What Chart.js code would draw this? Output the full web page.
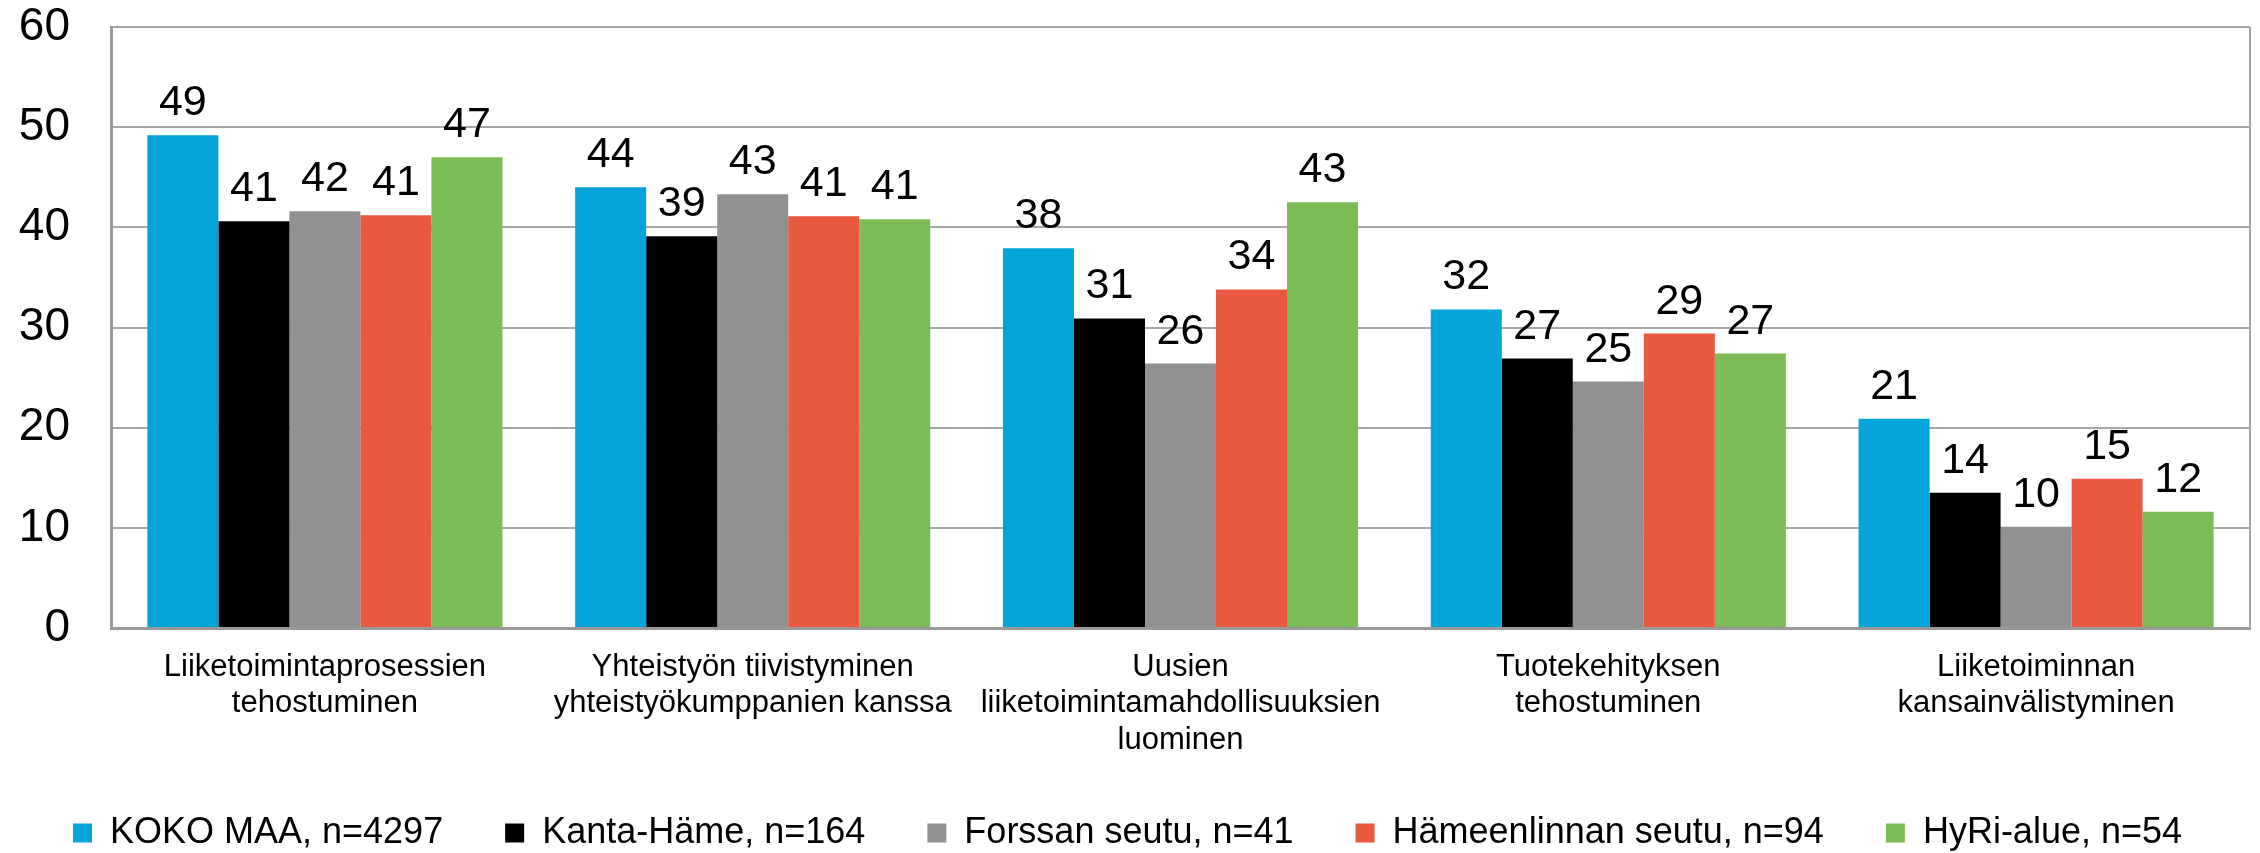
<!DOCTYPE html>
<html>
<head>
<meta charset="utf-8">
<script src="https://cdn.jsdelivr.net/npm/chart.js@4.4.1/dist/chart.umd.min.js"></script>
<style>
  html, body { margin: 0; padding: 0; background: #fff; }
</style>
</head>
<body>
<canvas id="chart" width="2260" height="853"></canvas>
<script>
"use strict"

// categories (x axis), split into lines as in the original
const categories = [
  ["Liiketoimintaprosessien", "tehostuminen"],
  ["Yhteistyön tiivistyminen", "yhteistyökumppanien kanssa"],
  ["Uusien", "liiketoimintamahdollisuuksien", "luominen"],
  ["Tuotekehityksen", "tehostuminen"],
  ["Liiketoiminnan", "kansainvälistyminen"]
];

const seriesNames = ["KOKO MAA, n=4297", "Kanta-Häme, n=164", "Forssan seutu, n=41", "Hämeenlinnan seutu, n=94", "HyRi-alue, n=54"];
const seriesColors = ["#03a4da", "#000000", "#919191", "#e85940", "#7cbc57"];

const kokoMaa     = [49.2, 44.0, 37.9, 31.8, 20.9];
const kantaHame   = [40.6, 39.1, 30.9, 26.9, 13.5];
const forssa      = [41.6, 43.3, 26.4, 24.6, 10.1];
const hameenlinna = [41.2, 41.1, 33.8, 29.4, 14.9];
const hyri        = [47.0, 40.8, 42.5, 27.4, 11.6];

const yTicks = [0, 10, 20, 30, 40, 50, 60];

const FONT = "'Liberation Sans', Arial, sans-serif";
Chart.defaults.font.family = FONT;
Chart.defaults.color = "#000";

// numbers above the bars
const valueLabels = {
  id: "valueLabels",
  afterDatasetsDraw(chart) {
    const ctx = chart.ctx;
    ctx.save();
    ctx.font = "43px " + FONT;
    ctx.fillStyle = "#000";
    ctx.textAlign = "center";
    ctx.textBaseline = "alphabetic";
    chart.data.datasets.forEach((ds, i) => {
      chart.getDatasetMeta(i).data.forEach((bar, j) => {
        ctx.fillText(Math.round(ds.data[j]), bar.x, bar.y - 20);
      });
    });
    ctx.restore();
  }
};

// right edge of the plot frame
const frame = {
  id: "frame",
  beforeDatasetsDraw(chart) {
    const a = chart.chartArea, ctx = chart.ctx;
    ctx.save();
    ctx.strokeStyle = "#a6a6a6";
    ctx.lineWidth = 2;
    ctx.beginPath();
    ctx.moveTo(a.right, a.top);
    ctx.lineTo(a.right, a.bottom);
    ctx.stroke();
    ctx.restore();
  }
};

const allSeries = [kokoMaa, kantaHame, forssa, hameenlinna, hyri];

new Chart(document.getElementById("chart"), {
  type: "bar",
  data: {
    labels: categories,
    datasets: allSeries.map((d, i) => ({
      label: seriesNames[i],
      data: d,
      backgroundColor: seriesColors[i],
      borderWidth: 0,
      categoryPercentage: 0.83,
      barPercentage: 1.0
    }))
  },
  options: {
    responsive: false,
    devicePixelRatio: 1,
    animation: false,
    layout: { padding: { left: 5, right: 10, top: 0, bottom: -8 } },
    plugins: {
      legend: {
        position: "bottom",
        labels: {
          boxWidth: 19,
          boxHeight: 19,
          padding: 62,
          color: "#000",
          font: { size: 36 }
        }
      },
      tooltip: { enabled: false }
    },
    scales: {
      x: {
        grid: { display: false, drawTicks: false },
        border: { color: "#999", width: 3 },
        ticks: {
          autoSkip: false,
          maxRotation: 0,
          padding: 21,
          color: "#000",
          font: { size: 31, lineHeight: 1.18 }
        },
        afterFit: s => { s.height = 125; }
      },
      y: {
        min: 0,
        max: 60,
        afterBuildTicks: s => { s.ticks = yTicks.map(v => ({ value: v })); },
        grid: { color: "#a6a6a6", lineWidth: 2, drawTicks: false },
        border: { color: "#999", width: 3 },
        ticks: {
          padding: 41,
          color: "#000",
          font: { size: 46 }
        },
        afterFit: s => { s.width = 106; s.paddingTop = 27; s.paddingBottom = 27; }
      }
    }
  },
  plugins: [valueLabels, frame]
});
</script>
</body>
</html>
